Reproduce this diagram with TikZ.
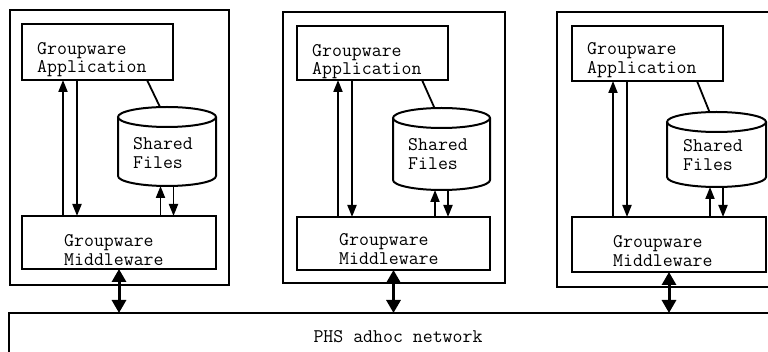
\documentclass[tikz,border=0pt]{standalone}
\usepackage{fontspec}
\usetikzlibrary{arrows.meta}
\tikzset{
  frame/.style={draw, line width=2pt, inner sep=0pt, outer sep=0pt, anchor=north west},
  lbl/.style={inner sep=0pt, anchor=base west, align=left, font=\ttfamily\fontsize{19.3}{18.5}\selectfont},
  arr/.style={line width=1.8pt, -{Triangle[length=12pt,width=9pt]}},
  dbl/.style={line width=3pt, {Triangle[length=13pt,width=14pt]}-{Triangle[length=13pt,width=14pt]}},
  link/.style={line width=1.8pt},
  cylnode/.style={inner sep=0pt, outer sep=0pt, anchor=north west},
  cylline/.style={line width=2pt},
}
\newcommand\mkcyl[5]{%
  \node[cylnode, minimum width={(#4-#2)*1pt}, minimum height={(#5-#3)*1pt}] (#1) at (#2,#3) {};
  \draw[cylline] ({(#2+#4)/2},{#3+10}) ellipse [x radius={(#4-#2)/2}, y radius=10];
  \draw[cylline] (#2,{#3+10}) -- (#2,{#5-10}) arc[start angle=180, end angle=0, x radius={(#4-#2)/2}, y radius=10] -- (#4,{#3+10});
}
\begin{document}
\begin{tikzpicture}[x=1pt, y=-1pt]
\useasboundingbox (0,0) rectangle (768,352);
\clip (0,0) rectangle (768,352);
% column 1
\node[frame, minimum width=219pt, minimum height=275pt] (host1) at (10,10) {};
\node[frame, minimum width=151pt, minimum height=56pt] (app1) at (22,24) {};
\mkcyl{cyl1}{118}{107}{216}{186}
\node[frame, minimum width=194pt, minimum height=53pt] (mw1) at (22,216) {};
\node[lbl] (tapp1) at (37,73) {Groupware\\Application};
\node[lbl] (tcyl1) at (133,168.5) {Shared\\Files};
\node[lbl] (tmw1) at (64,265.5) {Groupware\\Middleware};
% column 2
\node[frame, minimum width=222pt, minimum height=271pt] (host2) at (283,12) {};
\node[frame, minimum width=151pt, minimum height=54pt] (app2) at (297,26) {};
\mkcyl{cyl2}{393}{108}{490}{190}
\node[frame, minimum width=193pt, minimum height=53pt] (mw2) at (297,217) {};
\node[lbl] (tapp2) at (312,75) {Groupware\\Application};
\node[lbl] (tcyl2) at (408,169.5) {Shared\\Files};
\node[lbl] (tmw2) at (339,264.5) {Groupware\\Middleware};
% column 3
\node[frame, minimum width=260pt, minimum height=275pt] (host3) at (557,12) {};
\node[frame, minimum width=151pt, minimum height=55pt] (app3) at (572,26) {};
\mkcyl{cyl3}{667}{112}{766}{187}
\node[frame, minimum width=194pt, minimum height=55pt] (mw3) at (572,217) {};
\node[lbl] (tapp3) at (587,73.5) {Groupware\\Application};
\node[lbl] (tcyl3) at (683,170.5) {Shared\\Files};
\node[lbl] (tmw3) at (613,266.5) {Groupware\\Middleware};
% network
\node[frame, minimum width=800pt, minimum height=80pt] (net) at (9,313) {};
\node[lbl, anchor=base] (tnet) at (398,343) {PHS adhoc network};
% connectors
\foreach \i in {1,2,3}{
  \draw[arr] ([xshift=41pt]mw\i.north west) -- ([xshift=41pt]app\i.south west);
  \draw[arr] ([xshift=55pt]app\i.south west) -- ([xshift=55pt]mw\i.north west);
  \draw[link] ([xshift=-26pt]app\i.south east) -- ([xshift=-7pt]cyl\i.north);
  \draw[arr] ([xshift=-6.5pt]cyl\i.south |- mw\i.north) -- ([xshift=-6.5pt]cyl\i.south);
  \draw[arr] ([xshift=6.5pt]cyl\i.south) -- ([xshift=6.5pt]cyl\i.south |- mw\i.north);
  \draw[dbl] (mw\i.south) -- (mw\i.south |- net.north);
}
\end{tikzpicture}
\end{document}
